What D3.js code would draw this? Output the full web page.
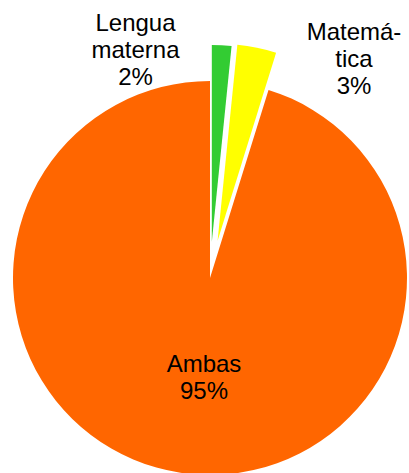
<!DOCTYPE html>
<html>
<head>
<meta charset="utf-8">
<script src="https://cdn.jsdelivr.net/npm/d3@7"></script>
<style>
  body { margin: 0; background: #fff; }
  svg { display: block; }
  text { font-family: "Liberation Sans", Arial, sans-serif; font-size: 24px; fill: #000; }
</style>
</head>
<body>
<div id="chart"></div>
<script>
// data
var categories = ["Lengua materna", "Matemática", "Ambas"];
var values = [1.6, 3.2, 95.2];
var labelLines = [["Lengua", "materna"], ["Matemá-", "tica"], ["Ambas"]];
var colors = ["#33cc33", "#ffff00", "#ff6600"];

// layout
var width = 409, height = 473;
var cx = 210, cy = 278, r = 197;
var explode = [36, 38, 0];
// label anchor (centre x, first baseline y) in page pixels
var labelPos = [[135.5, 31], [354, 40], [204, 372]];
var lineStep = 27;

var svg = d3.select("#chart").append("svg")
	.attr("width", width)
	.attr("height", height);

var g = svg.append("g")
	.attr("transform", `translate(${cx}, ${cy})`);

var pie = d3.pie()
	.sort(null)
	.value(d => d);

var arc = d3.arc()
	.innerRadius(0)
	.outerRadius(r);

var slices = pie(values);

// slices, pulled out along their bisector
g.selectAll(".slice")
	.data(slices)
	.enter()
	.append("path")
	.attr("class", "slice")
	.attr("d", arc)
	.attr("fill", (d, i) => colors[i])
	.attr("transform", (d, i) => {
		var a = (d.startAngle + d.endAngle) / 2;
		return `translate(${explode[i] * Math.sin(a)}, ${-explode[i] * Math.cos(a)})`;
	});

// labels
var labels = svg.selectAll(".lbl")
	.data(slices)
	.enter()
	.append("text")
	.attr("class", "lbl")
	.attr("text-anchor", "middle")
	.attr("x", (d, i) => labelPos[i][0])
	.attr("y", (d, i) => labelPos[i][1]);

labels.each(function(d, i){
	var lines = labelLines[i].concat([Math.round(d.data) + "%"]);
	d3.select(this).selectAll("tspan")
		.data(lines)
		.enter()
		.append("tspan")
		.attr("x", labelPos[i][0])
		.attr("dy", (t, j) => j === 0 ? 0 : lineStep)
		.text(t => t);
});
</script>
</body>
</html>
